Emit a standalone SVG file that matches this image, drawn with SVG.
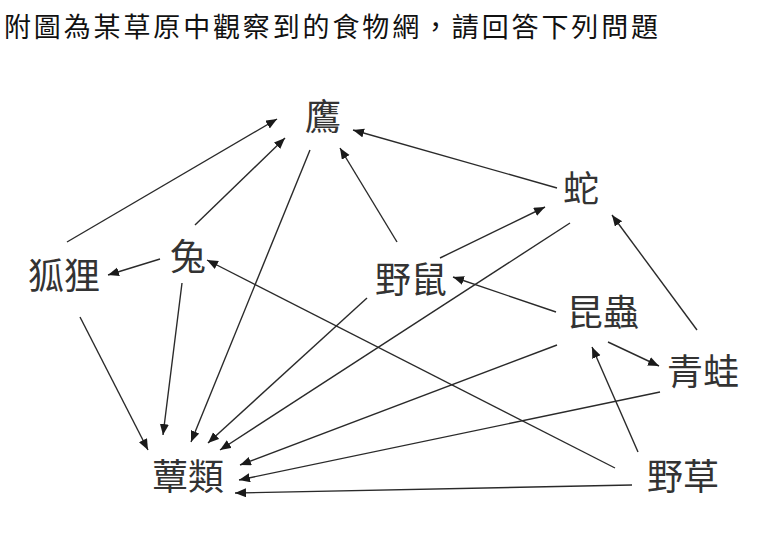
<svg xmlns="http://www.w3.org/2000/svg" width="784" height="538" viewBox="0 0 784 538">
<style>
.title{font-family:"Noto Sans CJK TC","Noto Sans CJK SC",sans-serif;font-size:27px;fill:#111}
.lbl{font-family:"Noto Sans CJK TC","Noto Sans CJK SC",sans-serif;font-size:36px;fill:#333;text-anchor:middle}
.e{stroke:#2a2a2a;stroke-width:1.4;fill:none;marker-end:url(#ah)}
</style>
<defs>
<marker id="ah" markerUnits="userSpaceOnUse" markerWidth="12" markerHeight="10" refX="11" refY="4.5" orient="auto">
<path d="M0,0 L11,4.5 L0,9 z" fill="#1a1a1a"/>
</marker>
</defs>
<rect width="784" height="538" fill="#fff"/>
<text class="title" x="4" y="37" textLength="654" lengthAdjust="spacing">附圖為某草原中觀察到的食物網，請回答下列問題</text>
<g id="connectors">
<line class="e" x1="67" y1="242" x2="277" y2="119"/>
<line class="e" x1="195" y1="225" x2="285" y2="138"/>
<line class="e" x1="310" y1="150" x2="191" y2="442"/>
<line class="e" x1="160" y1="259" x2="108" y2="275"/>
<line class="e" x1="397" y1="242" x2="340" y2="148"/>
<line class="e" x1="615" y1="468" x2="207" y2="260"/>
<line class="e" x1="182" y1="283" x2="163" y2="435"/>
<line class="e" x1="80" y1="317" x2="148" y2="450"/>
<line class="e" x1="557" y1="188" x2="353" y2="130"/>
<line class="e" x1="440" y1="258" x2="545" y2="207"/>
<line class="e" x1="570" y1="223" x2="220" y2="450"/>
<line class="e" x1="367" y1="298" x2="208" y2="443"/>
<line class="e" x1="556" y1="312" x2="453" y2="277"/>
<line class="e" x1="697" y1="330" x2="612" y2="215"/>
<line class="e" x1="608" y1="342" x2="659" y2="366"/>
<line class="e" x1="638" y1="452" x2="592" y2="347"/>
<line class="e" x1="557" y1="345" x2="240" y2="465"/>
<line class="e" x1="660" y1="392" x2="239" y2="480"/>
<line class="e" x1="632" y1="485" x2="235" y2="493"/>
</g>
<g id="eagle"><text class="lbl" x="323" y="130">鷹</text></g>
<g id="fox"><text class="lbl" x="64" y="289">狐狸</text></g>
<g id="rabbit"><text class="lbl" x="188" y="270">兔</text></g>
<g id="mouse"><text class="lbl" x="411" y="293">野鼠</text></g>
<g id="snake"><text class="lbl" x="581" y="202">蛇</text></g>
<g id="insect"><text class="lbl" x="603" y="326">昆蟲</text></g>
<g id="frog"><text class="lbl" x="703" y="385">青蛙</text></g>
<g id="grass"><text class="lbl" x="683" y="490">野草</text></g>
<g id="fungi"><text class="lbl" x="188" y="490">蕈類</text></g>
</svg>
